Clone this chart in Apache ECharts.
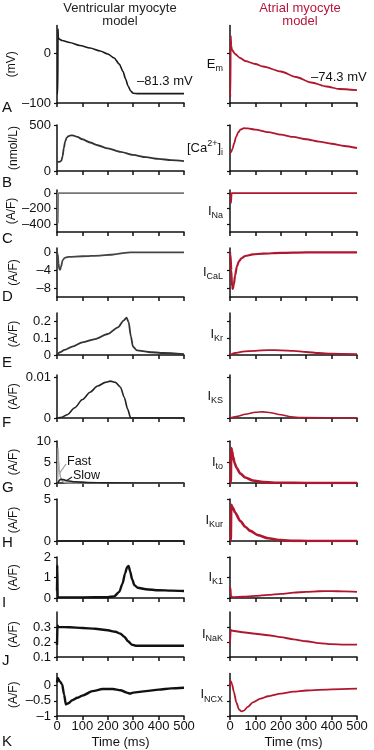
<!DOCTYPE html>
<html><head><meta charset="utf-8">
<script src="https://cdn.jsdelivr.net/npm/echarts@6/dist/echarts.min.js"></script>
<style>html,body{margin:0;padding:0;background:#fff}#c{width:374px;height:750px}</style>
</head><body><div id="c"></div><script>
// ---------------- data (time ms, value) ----------------
const timeTicks = [0,100,200,300,400,500];
const vmVent = [[0,-81.3],[3,-81.3],[4,48],[5,32],[8,28],[20,25],[50,21],[90,15],[130,10],[170,4],[200,-2],[225,-10],[245,-22],[260,-37],[270,-52],[280,-66],[290,-76],[300,-80.5],[320,-81.3],[500,-81.3]];
const vmAtr = [[0,-74.3],[1.5,-88],[3,34],[5,14],[8,6],[20,-2],[40,-10],[60,-16],[100,-22],[130,-27],[200,-37],[260,-48],[320,-59],[380,-67],[430,-72],[500,-74.3]];
const caVent = [[0,100],[10,100],[17,110],[22,160],[27,250],[32,320],[38,360],[45,378],[55,388],[65,385],[80,370],[100,345],[130,310],[160,280],[200,245],[250,208],[300,175],[350,150],[400,132],[450,118],[500,108]];
const caAtr = [[0,200],[4,205],[10,240],[16,300],[24,370],[32,420],[42,452],[55,465],[70,463],[100,450],[150,422],[200,396],[250,370],[300,345],[350,320],[400,296],[450,272],[500,250]];
const naVent = [[0,0],[3,0],[4,-390],[5,-20],[7,0],[500,0]];
const naAtr = [[0,0],[3,0],[4,-125],[6,-10],[8,0],[500,0]];
const calVent = [[0,0],[3,-0.3],[6,-2.4],[9,-3.7],[12,-3.9],[16,-3.2],[22,-1.8],[30,-1.2],[45,-1],[100,-0.85],[170,-0.7],[210,-0.52],[240,-0.3],[265,-0.1],[290,0],[500,0]];
const calAtr = [[0,0],[2,-0.5],[5,-4],[8,-7.6],[11,-8.2],[15,-7.2],[20,-5.2],[27,-3.2],[35,-2],[45,-1.3],[60,-0.8],[90,-0.45],[130,-0.25],[200,-0.1],[300,0],[500,0]];
const krVent = [[0,0],[10,0.015],[30,0.03],[60,0.05],[100,0.075],[150,0.095],[200,0.125],[240,0.165],[262,0.205],[274,0.222],[282,0.195],[291,0.11],[299,0.05],[315,0.027],[360,0.018],[420,0.012],[500,0.005]];
const krAtr = [[0,0],[20,0.012],[50,0.02],[100,0.025],[150,0.029],[200,0.028],[250,0.024],[300,0.018],[350,0.012],[400,0.008],[500,0.005]];
const ksVent = [[0,0],[20,0.0002],[40,0.0008],[70,0.0025],[100,0.0045],[130,0.0063],[160,0.0078],[190,0.0087],[210,0.009],[230,0.0087],[250,0.0075],[265,0.005],[278,0.0022],[290,0],[500,0]];
const ksAtr = [[0,0],[30,0.0004],[60,0.0009],[100,0.0014],[130,0.0015],[160,0.0013],[200,0.0008],[240,0.0003],[280,0.0001],[500,0]];
const toFastVent = [[0,0],[3,0],[4,8.3],[6,5.5],[9,3],[14,1.3],[20,0.5],[30,0.15],[45,0],[500,0]];
const toSlowVent = [[0,0],[4,0],[8,0.6],[15,0.9],[25,0.8],[40,0.55],[70,0.3],[120,0.1],[200,0.02],[500,0]];
const toAtr = [[0,0],[3,0],[5,8.3],[8,7.6],[12,6.3],[18,4.8],[25,3.7],[40,2.3],[60,1.3],[90,0.6],[130,0.2],[200,0.05],[300,0],[500,0]];
const kurVent = [[0,0],[500,0]];
const kurAtr = [[0,0],[3,0],[5,4.3],[10,4.05],[20,3.4],[40,2.4],[60,1.7],[80,1.2],[110,0.7],[150,0.32],[200,0.1],[250,0.02],[300,0],[500,0]];
const k1Vent = [[0,0.35],[1,1.6],[2.5,0.05],[5,0.03],[100,0.03],[200,0.04],[225,0.08],[245,0.3],[258,0.7],[268,1.2],[276,1.5],[282,1.56],[288,1.3],[296,0.9],[305,0.62],[318,0.5],[350,0.43],[400,0.38],[450,0.36],[500,0.34]];
const k1Atr = [[0,0.3],[2,0.5],[4,0.1],[10,0.04],[50,0.06],[100,0.1],[150,0.15],[200,0.2],[250,0.26],[300,0.3],[350,0.33],[400,0.34],[450,0.32],[500,0.3]];
const nakVent = [[0,0.18],[2,0.31],[5,0.3],[50,0.298],[100,0.293],[150,0.288],[200,0.278],[230,0.268],[250,0.255],[265,0.235],[280,0.205],[295,0.182],[310,0.175],[500,0.175]];
const nakAtr = [[0,0.19],[3,0.28],[10,0.275],[50,0.265],[100,0.255],[150,0.245],[200,0.232],[250,0.218],[300,0.205],[350,0.193],[400,0.186],[450,0.183],[500,0.182]];
const ncxVent = [[0,0.1],[3,0.25],[10,0.15],[20,0.05],[28,-0.3],[35,-0.62],[45,-0.58],[60,-0.48],[80,-0.4],[100,-0.33],[140,-0.18],[180,-0.11],[220,-0.11],[250,-0.15],[275,-0.23],[287,-0.26],[300,-0.23],[350,-0.18],[400,-0.13],[450,-0.09],[500,-0.07]];
const ncxAtr = [[0,-0.03],[3,0.15],[8,0.05],[15,-0.2],[25,-0.55],[35,-0.78],[45,-0.85],[55,-0.82],[70,-0.7],[90,-0.55],[120,-0.43],[150,-0.35],[200,-0.26],[250,-0.2],[300,-0.16],[400,-0.12],[500,-0.1]];

const units = ['(mV)','(nmol/L)','(A/F)','(A/F)','(A/F)','(A/F)','(A/F)','(A/F)','(A/F)','(A/F)','(A/F)'];
const rightLabels = ['{a|E}{s|m}','{a|[Ca}{p|2+}{a|]}{s|i}','{a|I}{s|Na}','{a|I}{s|CaL}','{a|I}{s|Kr}','{a|I}{s|KS}','{a|I}{s|to}','{a|I}{s|Kur}','{a|I}{s|K1}','{a|I}{s|NaK}','{a|I}{s|NCX}'];
const panelLetters = ['A','B','C','D','E','F','G','H','I','J','K'];
const yMins = [-100,0,-500,-10,0,0,0,0,0,0.1,-1];
const yMaxs = [55,500,40,1,0.25,0.0105,10,5,2,0.4,0.4];
const yTicks = [[-100,0],[0,500],[-400,-200,0],[-8,-4,0],[0,0.1,0.2],[0,0.01],[0,5,10],[0,5],[0,1,2],[0.1,0.2,0.3],[-1,-0.5,0]];

// ---------------- layout ----------------
const tops =    [25.5,125,190,248,313,375,441,499,557,612,673.5];
const bottoms = [103, 171,232,297,355,418,483,541,598,657,717];
const letterY = [108,183,239,297,363,423,488,543,603,661,742];
const VENT = '#1a1a1a', ATR = '#b0172e', TITLE_RED = '#b5173b';
const FONT = 'Liberation Sans, Arial, sans-serif';

const ventSeries = [
  [{d:vmVent,c:VENT,w:1.6}],
  [{d:caVent,c:'#333',w:1.8}],
  [{d:naVent,c:'#777',w:1.6}],
  [{d:calVent,c:'#444',w:1.8}],
  [{d:krVent,c:'#333',w:1.8}],
  [{d:ksVent,c:'#222',w:1.6}],
  [{d:toFastVent,c:'#aaa',w:1.6},{d:toSlowVent,c:'#222',w:1.6}],
  [{d:kurVent,c:'#222',w:1.8}],
  [{d:k1Vent,c:'#111',w:2.4}],
  [{d:nakVent,c:'#111',w:2.4}],
  [{d:ncxVent,c:'#111',w:2.4}]
];
const atrSeries = [vmAtr,caAtr,naAtr,calAtr,krAtr,ksAtr,toAtr,kurAtr,k1Atr,nakAtr,ncxAtr];
const atrWidth = [1.8,1.8,1.8,2.2,1.8,1.6,2.6,2.6,1.8,1.8,1.8];

const fmt = v => (v < 0 ? '\u2013' + Math.abs(v) : String(v));
const axisColor = '#111';

const grid = [], xAxis = [], yAxis = [], series = [];
for (let i = 0; i < 11; i++) {
  for (let side = 0; side < 2; side++) {
    const gi = grid.length;
    const last = i === 10;
    grid.push({left: side ? 230 : 57, width: 127, top: tops[i], height: bottoms[i] - tops[i]});
    xAxis.push({
      gridIndex: gi, type: 'value', min: 0, max: 500, interval: 100,
      axisLine: {onZero: false, lineStyle: {color: axisColor, width: 1.5}},
      axisTick: {show: true, inside: false, length: 4, lineStyle: {color: axisColor, width: 1.5}},
      axisLabel: {show: last, margin: 4, color: '#111', fontSize: 13, fontFamily: FONT},
      splitLine: {show: false},
      name: last ? 'Time (ms)' : '', nameLocation: 'middle', nameGap: 20,
      nameTextStyle: {color: '#111', fontSize: 13, fontFamily: FONT}
    });
    yAxis.push({
      gridIndex: gi, type: 'value', min: yMins[i], max: yMaxs[i],
      axisLine: {show: true, onZero: false, lineStyle: {color: axisColor, width: 1.5}},
      axisTick: {show: true, inside: false, length: 3, customValues: yTicks[i], lineStyle: {color: axisColor, width: 1.2}},
      axisLabel: {show: !side, margin: 6, customValues: yTicks[i], formatter: fmt, color: '#111', fontSize: 13, fontFamily: FONT},
      splitLine: {show: false},
      name: side ? rightLabels[i] : units[i],
      nameLocation: 'middle',
      nameRotate: side ? 0 : 90,
      nameGap: side ? 7 : 37,
      nameTextStyle: side ? {
        color: '#111', fontFamily: FONT, align: 'right',
        rich: {
          a: {fontSize: 13, lineHeight: 18, verticalAlign: 'middle', fontFamily: FONT, color: '#111'},
          s: {fontSize: 9, lineHeight: 9, verticalAlign: 'bottom', fontFamily: FONT, color: '#111'},
          p: {fontSize: 9, lineHeight: 9, verticalAlign: 'top', fontFamily: FONT, color: '#111'}
        }
      } : {color: '#111', fontSize: 12, fontFamily: FONT}
    });
    const list = side ? [{d: atrSeries[i], c: ATR, w: atrWidth[i]}] : ventSeries[i];
    list.forEach(s => series.push({
      type: 'line', xAxisIndex: gi, yAxisIndex: gi, data: s.d,
      symbol: 'none', smooth: 0.25, smoothMonotone: 'x',
      lineStyle: {color: s.c, width: s.w}, silent: true
    }));
  }
}

const graphic = panelLetters.map((t, i) => ({
  type: 'text', left: 2, top: letterY[i] - 8,
  style: {text: t, fontSize: 15, fontFamily: FONT, fill: '#111'}
}));
graphic.push(
  {type: 'text', x: 120, y: 2, style: {text: 'Ventricular myocyte\nmodel', fontSize: 13, lineHeight: 13, fontFamily: FONT, fill: '#222', align: 'center'}},
  {type: 'text', x: 300, y: 2, style: {text: 'Atrial myocyte\nmodel', fontSize: 13, lineHeight: 13, fontFamily: FONT, fill: TITLE_RED, align: 'center'}},
  {type: 'text', x: 137, y: 75, style: {text: '\u201381.3 mV', fontSize: 13, fontFamily: FONT, fill: '#111'}},
  {type: 'text', x: 311, y: 71, style: {text: '\u201374.3 mV', fontSize: 13, fontFamily: FONT, fill: '#111'}},
  {type: 'text', x: 67, y: 455, style: {text: 'Fast', fontSize: 12.5, fontFamily: FONT, fill: '#111'}},
  {type: 'text', x: 73, y: 469, style: {text: 'Slow', fontSize: 12.5, fontFamily: FONT, fill: '#111'}},
  {type: 'line', shape: {x1: 66, y1: 464, x2: 59, y2: 474}, style: {stroke: '#999', lineWidth: 1.2}},
  {type: 'line', shape: {x1: 72, y1: 477, x2: 66, y2: 481}, style: {stroke: '#222', lineWidth: 1.2}}
);

const chart = echarts.init(document.getElementById('c'));
chart.setOption({
  animation: false,
  backgroundColor: '#fff',
  grid, xAxis, yAxis, series, graphic
});
</script></body></html>
